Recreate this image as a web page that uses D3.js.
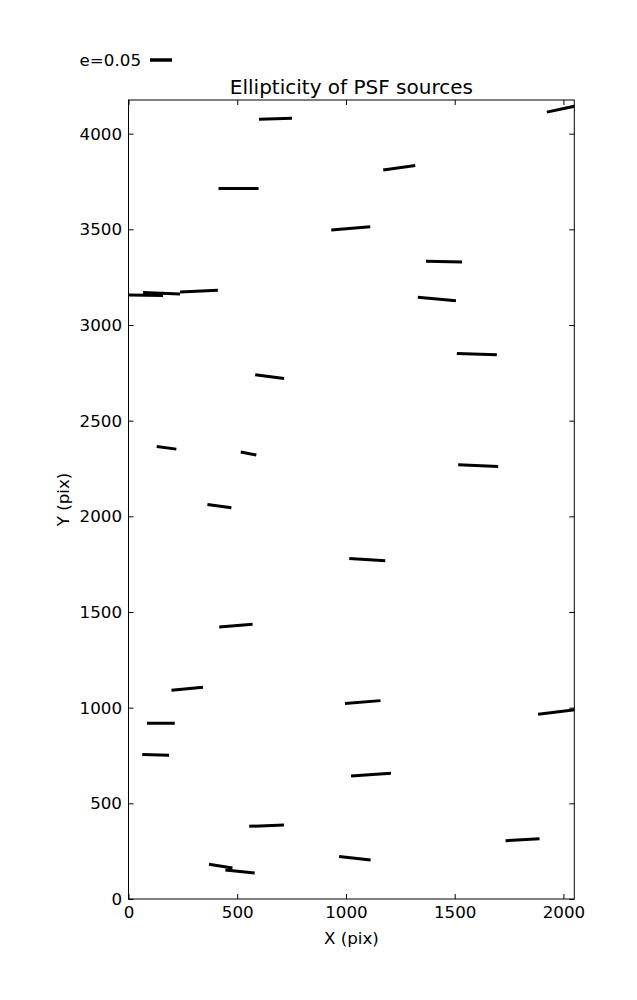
<!DOCTYPE html>
<html>
<head>
<meta charset="utf-8">
<script src="https://cdn.jsdelivr.net/npm/d3@7"></script>
<style>
  html, body { margin: 0; padding: 0; background: #fff; }
  svg { display: block; }
  text { font-family: "DejaVu Sans", sans-serif; fill: #000; }
</style>
</head>
<body>
<svg id="chart" width="637" height="1000"></svg>
<script>
// ---- data (source centre, ellipticity, position angle in degrees) ----
const srcX = [676, 2000, 506, 1245, 1022, 1451, 1418, 67, 152, 324, 649, 175, 552, 418, 494, 1602, 1608, 1098, 270, 149, 125, 635, 424, 513, 1077, 1975, 1115, 1812, 1041];
const srcY = [4078, 4131, 3714, 3822, 3505, 3331, 3136, 3156, 3166, 3177, 2730, 2358, 2328, 2053, 1429, 2848, 2265, 1774, 1099, 919, 753, 383, 172, 144, 1029, 978, 650, 310, 213];
const srcE = [0.075, 0.077, 0.091, 0.0735, 0.089, 0.082, 0.087, 0.091, 0.084, 0.086, 0.066, 0.045, 0.036, 0.055, 0.076, 0.091, 0.091, 0.082, 0.072, 0.063, 0.061, 0.079, 0.054, 0.067, 0.081, 0.091, 0.091, 0.0775, 0.072];
const srcAngle = [1.5, 12, 0, 8.2, 4.8, -1, -5, -1, -2, 2.5, -7.3, -7.5, -10.9, -7.8, 4.6, -1.9, -2.4, -3.7, 5.4, 0, -1.3, 2.1, -9, -5.8, 4.8, 7, 3.8, 3.4, -6];
const xTicks = [0, 500, 1000, 1500, 2000];
const yTicks = [0, 500, 1000, 1500, 2000, 2500, 3000, 3500, 4000];
const legendE = 0.05;
const titleText = "Ellipticity of PSF sources";
const xLabel = "X (pix)";
const yLabel = "Y (pix)";

// ---- layout ----
const svg = d3.select("#chart");
const L = 128.5, R = 574.3, T = 100, B = 899;
const x = d3.scaleLinear().domain([0, 2050]).range([L, R]);
const y = d3.scaleLinear().domain([0, 4176]).range([B, T]);
const len = d3.scaleLinear().domain([0, 0.05]).range([0, 22]);

svg.append("defs").append("clipPath").attr("id", "clip")
  .append("rect").attr("x", L).attr("y", T).attr("width", R - L).attr("height", B - T);

const data = srcX.map((d, i) => ({ x: d, y: srcY[i], e: srcE[i], a: srcAngle[i] }));

svg.append("g").attr("clip-path", "url(#clip)")
  .selectAll("line").data(data).join("line")
  .attr("x1", d => x(d.x) - len(d.e) / 2 * Math.cos(d.a * Math.PI / 180))
  .attr("y1", d => y(d.y) + len(d.e) / 2 * Math.sin(d.a * Math.PI / 180))
  .attr("x2", d => x(d.x) + len(d.e) / 2 * Math.cos(d.a * Math.PI / 180))
  .attr("y2", d => y(d.y) - len(d.e) / 2 * Math.sin(d.a * Math.PI / 180))
  .attr("stroke", "#000").attr("stroke-width", 3).attr("stroke-linecap", "butt");

// ---- axes (ticks inward on all four sides) ----
const fs = 16.7;
const tickLen = 5;
function styleAxis(g) {
  g.select(".domain").remove();
  g.selectAll(".tick line").attr("stroke", "#000").attr("stroke-width", 1);
  g.selectAll(".tick text").attr("font-size", fs).attr("font-family", "DejaVu Sans");
}
svg.append("g").attr("transform", `translate(0,${B})`)
  .call(d3.axisBottom(x).tickValues(xTicks).tickSize(-tickLen).tickPadding(7).tickFormat(d3.format("d")))
  .call(styleAxis);
svg.append("g").attr("transform", `translate(0,${T})`)
  .call(d3.axisTop(x).tickValues(xTicks).tickSize(-tickLen).tickFormat(""))
  .call(styleAxis);
svg.append("g").attr("transform", `translate(${L},0)`)
  .call(d3.axisLeft(y).tickValues(yTicks).tickSize(-tickLen).tickPadding(6.5).tickFormat(d3.format("d")))
  .call(styleAxis);
svg.append("g").attr("transform", `translate(${R},0)`)
  .call(d3.axisRight(y).tickValues(yTicks).tickSize(-tickLen).tickFormat(""))
  .call(styleAxis);

svg.append("rect").attr("x", L).attr("y", T).attr("width", R - L).attr("height", B - T)
  .attr("fill", "none").attr("stroke", "#000").attr("stroke-width", 1);

// ---- labels ----
svg.append("text").attr("x", (L + R) / 2).attr("y", 94).attr("text-anchor", "middle")
  .attr("font-size", 20).text(titleText);
svg.append("text").attr("x", (L + R) / 2).attr("y", 944).attr("text-anchor", "middle")
  .attr("font-size", fs).text(xLabel);
svg.append("text").attr("transform", `translate(69,${(T + B) / 2}) rotate(-90)`)
  .attr("text-anchor", "middle").attr("font-size", fs).text(yLabel);

// ---- legend ----
svg.append("text").attr("x", 141).attr("y", 66).attr("text-anchor", "end")
  .attr("font-size", fs).text("e=" + legendE.toFixed(2));
svg.append("line").attr("x1", 150).attr("x2", 150 + len(legendE)).attr("y1", 60).attr("y2", 60)
  .attr("stroke", "#000").attr("stroke-width", 3.5);
</script>
</body>
</html>
